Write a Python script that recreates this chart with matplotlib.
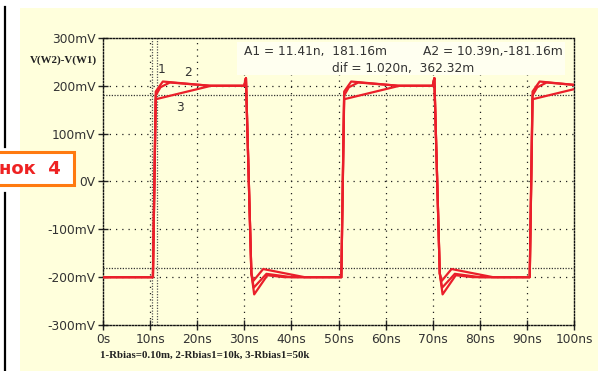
import matplotlib
matplotlib.use("Agg")
import matplotlib.pyplot as plt
from matplotlib.patches import Rectangle
from matplotlib.lines import Line2D

# ---- data (time in ns, voltage in mV) ----
t1 = [0, 10.6, 11.2, 12.7, 22.9, 30.0, 30.35, 31.5, 31.9, 34.0, 42.8,
      50.6, 51.2, 52.7, 62.9, 70.0, 70.35, 71.5, 71.9, 74.0, 82.8,
      90.6, 91.2, 92.7, 100]
v1 = [-200, -200, 188, 209, 200, 200, 216, -192, -208, -183, -200,
      -200, 188, 209, 200, 200, 216, -192, -208, -183, -200,
      -200, 188, 209, 202]

t2 = [0, 10.6, 11.2, 12.2, 14.2, 22.9, 30.0, 30.35, 31.5, 32.0, 34.7, 40.0,
      50.6, 51.2, 52.2, 54.2, 62.9, 70.0, 70.35, 71.5, 72.0, 74.7, 80.0,
      90.6, 91.2, 92.2, 94.2, 100]
v2 = [-200, -200, 180, 197, 207, 200, 200, 216, -192, -222, -193, -200,
      -200, 180, 197, 207, 200, 200, 216, -192, -222, -193, -200,
      -200, 180, 197, 207, 202]

t3 = [0, 10.6, 11.2, 22.9, 30.0, 30.35, 31.5, 32.1, 34.9, 38.5,
      50.6, 51.2, 62.9, 70.0, 70.35, 71.5, 72.1, 74.9, 78.5,
      90.6, 91.2, 100]
v3 = [-200, -200, 172, 200, 200, 216, -192, -236, -196, -200,
      -200, 172, 200, 200, 216, -192, -236, -196, -200,
      -200, 172, 193]

x_ticks = [0, 10, 20, 30, 40, 50, 60, 70, 80, 90, 100]
x_labels = ["0s", "10ns", "20ns", "30ns", "40ns", "50ns", "60ns", "70ns", "80ns", "90ns", "100ns"]
y_ticks = [-300, -200, -100, 0, 100, 200, 300]
y_labels = ["-300mV", "-200mV", "-100mV", "0V", "100mV", "200mV", "300mV"]

cursor_t = [10.39, 11.41]
cursor_v = [181.16, -181.16]

# ---- figure ----
W, H = 598, 371
fig = plt.figure(figsize=(W / 100, H / 100), dpi=100, facecolor="white")

def fx(px):
    return px / W

def fy(py):
    return 1 - py / H

bg = "#FFFFDC"
fig.patches.append(Rectangle((fx(20), 0), 1 - fx(20), fy(8), transform=fig.transFigure,
                             facecolor=bg, edgecolor="none", zorder=-10))
# black vertical bars at left
fig.lines.append(Line2D([fx(5), fx(5)], [fy(7), fy(147)], transform=fig.transFigure,
                        color="black", lw=1.6))
fig.lines.append(Line2D([fx(5), fx(5)], [fy(193), fy(371)], transform=fig.transFigure,
                        color="black", lw=1.6))
# orange caption box
fig.patches.append(Rectangle((fx(-6), fy(185)), fx(80), fy(152) - fy(185),
                             transform=fig.transFigure, facecolor="white",
                             edgecolor="#FF7A10", lw=2.2, zorder=2))
fig.text(fx(-1), fy(169), "нок  4", ha="left", va="center", fontsize=13,
         fontweight="bold", color="#EE2222", family="DejaVu Sans", zorder=3)

ax = fig.add_axes([fx(103), fy(325), fx(574) - fx(103), fy(38) - fy(325)])
ax.set_zorder(5)
ax.set_facecolor(bg)
ax.set_xlim(0, 100)
ax.set_ylim(-300, 300)

red = "#EA1F2A"
for t, v in [(t3, v3), (t2, v2), (t1, v1)]:
    ax.plot(t, v, color=red, lw=1.6, zorder=5, solid_joinstyle="round")

# grid
for xv in x_ticks[1:-1]:
    ax.axvline(xv, color="#222222", lw=0.9, ls=(0, (1, 4)), zorder=1)
for yv in y_ticks[1:-1]:
    ax.axhline(yv, color="#222222", lw=0.9, ls=(0, (1, 4)), zorder=1)

# cursors
for tc in cursor_t:
    ax.axvline(tc, color="#555555", lw=0.9, ls=(0, (1, 1.2)), zorder=2)
for vc in cursor_v:
    ax.axhline(vc, color="#333333", lw=0.9, ls=(0, (1, 1.2)), zorder=2)

# spines dotted
for s in ax.spines.values():
    s.set_linestyle((0, (1, 1.3)))
    s.set_linewidth(1.0)
    s.set_color("#111111")

ax.set_xticks(x_ticks)
ax.set_xticklabels(x_labels)
ax.set_yticks(y_ticks)
ax.set_yticklabels(y_labels)
ax.tick_params(direction="inout", length=7, width=1, color="#222222",
               labelsize=8.8, labelcolor="#333333", pad=2)

# annotation box
ax.add_patch(Rectangle((28.45, 223), 98.1 - 28.45, 292 - 223, facecolor="#FFFFF0",
                       edgecolor="none", zorder=3))
tk = dict(fontsize=8.8, color="#333333", zorder=6)
ax.text((244 - 103) / 4.71, 200 + (86 - 52) / 0.4775, "A1 = 11.41n,  181.16m", ha="left", va="center", **tk)
ax.text((563 - 103) / 4.71, 200 + (86 - 52) / 0.4775, "A2 = 10.39n,-181.16m", ha="right", va="center", **tk)
ax.text((332 - 103) / 4.71, 200 + (86 - 69) / 0.4775, "dif = 1.020n,  362.32m", ha="left", va="center", **tk)

# curve labels
ax.text((162 - 103) / 4.71, 200 + (86 - 70) / 0.4775, "1", ha="center", va="center", **tk)
ax.text((188 - 103) / 4.71, 200 + (86 - 73) / 0.4775, "2", ha="center", va="center", **tk)
ax.text((180 - 103) / 4.71, 200 + (86 - 108) / 0.4775, "3", ha="center", va="center", **tk)

# labels
fig.text(fx(63), fy(60), "V(W2)-V(W1)", ha="center", va="center", fontsize=7.8,
         fontweight="bold", family="Liberation Serif", color="#222222")
fig.text(fx(100), fy(355), "1-Rbias=0.10m, 2-Rbias1=10k, 3-Rbias1=50k", ha="left",
         va="center", fontsize=7.8, fontweight="bold", family="Liberation Serif",
         color="#222222")

fig.savefig("out.png", dpi=100, facecolor="white")
